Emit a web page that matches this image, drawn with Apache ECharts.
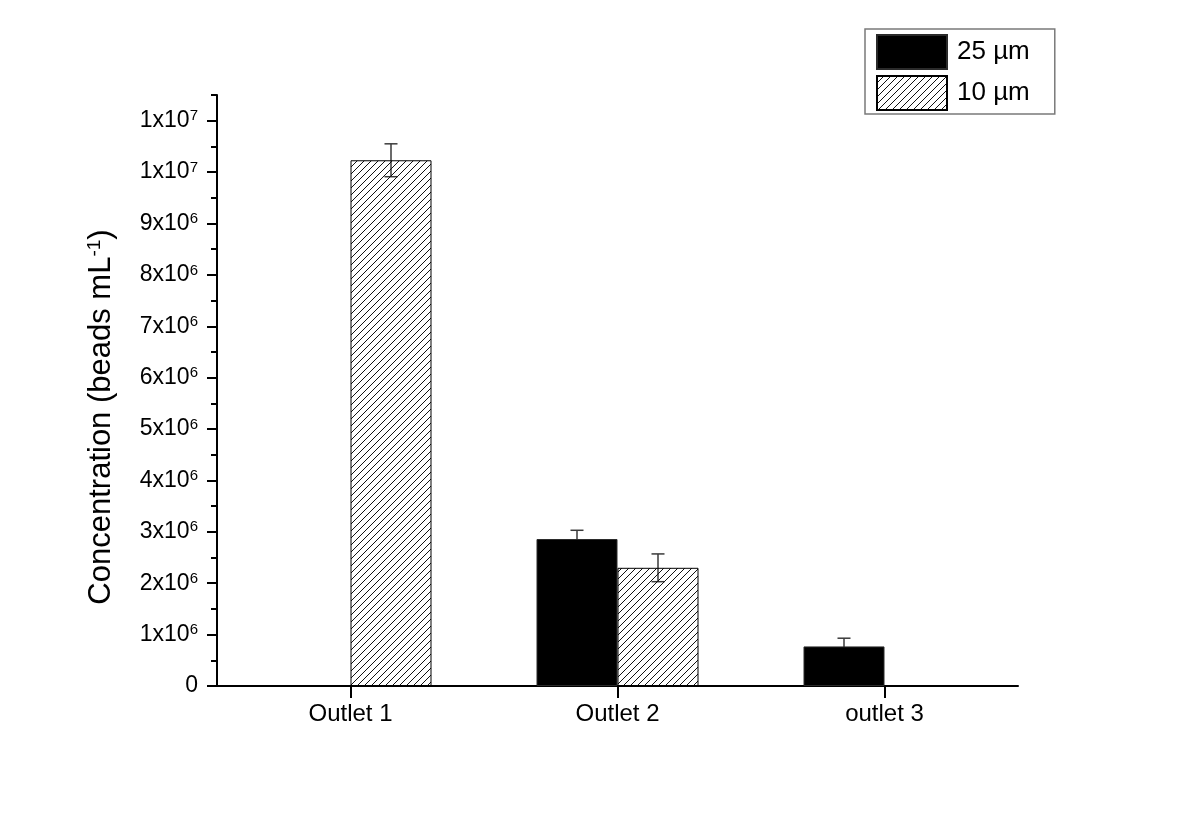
<!DOCTYPE html>
<html>
<head>
<meta charset="utf-8">
<title>Bead concentration per outlet</title>
<script src="https://cdn.jsdelivr.net/npm/echarts@6/dist/echarts.min.js"></script>
<style>
  html, body { margin: 0; padding: 0; background: #fff; }
  #chart { width: 1190px; height: 818px; }
</style>
</head>
<body>
<div id="chart"></div>
<script>
// Outlet categories and measured concentrations (beads per mL)
const categories = ['Outlet 1', 'Outlet 2', 'outlet 3'];
const seriesNames = ['25 µm', '10 µm'];
const mean25 = [null, 2.86e6, 0.77e6];
const err25 = [null, 0.17e6, 0.16e6];
const mean10 = [10.23e6, 2.30e6, null];
const err10 = [0.32e6, 0.27e6, null];
// Major y ticks (labelled); minor ticks fall halfway between them
const yTickValues = [0, 1e6, 2e6, 3e6, 4e6, 5e6, 6e6, 7e6, 8e6, 9e6, 1e7, 1.1e7];
const yMax = 1.15e7;

const FONT = '"Liberation Sans", Arial, Helvetica, sans-serif';
const BAR_W = 81;

// Diagonal hatch tile for the 10 µm bars
function hatchTile() {
  const s = 7;
  const c = document.createElement('canvas');
  c.width = s; c.height = s;
  const g = c.getContext('2d');
  g.strokeStyle = '#111';
  g.lineWidth = 1;
  g.beginPath();
  g.moveTo(-1, s + 1); g.lineTo(s + 1, -1);
  g.moveTo(-1, 1); g.lineTo(1, -1);
  g.moveTo(s - 1, s + 1); g.lineTo(s + 1, s - 1);
  g.stroke();
  return c;
}

// "1x10^6" style labels
function sciLabel(v) {
  if (v === 0) return '{b|0}';
  const e = Math.floor(Math.log10(v) + 1e-9);
  const m = Math.round(v / Math.pow(10, e));
  return '{b|' + m + 'x10}{s|' + e + '}';
}

function errorData(means, errs) {
  const out = [];
  means.forEach((v, i) => { if (v != null && errs[i] != null) out.push([i, v, errs[i]]); });
  return out;
}

function errorSeries(means, errs, offset) {
  return {
    type: 'custom',
    xAxisIndex: 0,
    yAxisIndex: 0,
    z: 1,
    silent: true,
    encode: { x: 0, y: 1 },
    data: errorData(means, errs),
    renderItem: function (params, api) {
      const i = api.value(0), v = api.value(1), e = api.value(2);
      const x = api.coord([i, v])[0] + offset;
      const yTop = api.coord([i, v + e])[1];
      const yBot = api.coord([i, v - e])[1];
      const half = 6.5;
      const st = { stroke: '#3a3a3a', lineWidth: 1.5 };
      return {
        type: 'group',
        children: [
          { type: 'line', shape: { x1: x, y1: yTop, x2: x, y2: yBot }, style: st },
          { type: 'line', shape: { x1: x - half, y1: yTop, x2: x + half, y2: yTop }, style: st },
          { type: 'line', shape: { x1: x - half, y1: yBot, x2: x + half, y2: yBot }, style: st }
        ]
      };
    }
  };
}

const chart = echarts.init(document.getElementById('chart'), null, { renderer: 'canvas' });

const axisBlack = { color: '#000', width: 2 };

chart.setOption({
  animation: false,
  backgroundColor: '#fff',
  textStyle: { fontFamily: FONT, color: '#000' },
  grid: { left: 217, right: 172, top: 95, bottom: 132 },
  legend: {
    data: seriesNames,
    orient: 'vertical',
    left: 865,
    top: 29,
    icon: 'rect',
    itemWidth: 70,
    itemHeight: 34,
    itemGap: 5,
    padding: [5, 25, 3, 11],
    borderColor: '#7a7a7a',
    borderWidth: 1.5,
    selectedMode: false,
    textStyle: { fontFamily: FONT, fontSize: 26, color: '#000', padding: [0, 0, 0, 5] }
  },
  xAxis: {
    type: 'category',
    data: categories,
    axisLine: { lineStyle: axisBlack },
    axisTick: { show: true, interval: 0, alignWithLabel: true, length: 12, lineStyle: axisBlack },
    axisLabel: { fontFamily: FONT, fontSize: 24, color: '#000', margin: 16, interval: 0 },
    splitLine: { show: false }
  },
  yAxis: [
    {
      // half-step ticks
      type: 'value',
      min: 0,
      max: yMax,
      interval: 5e5,
      axisLine: { show: true, lineStyle: axisBlack },
      axisTick: { show: true, length: 6, lineStyle: axisBlack },
      axisLabel: { show: false },
      splitLine: { show: false }
    },
    {
      // labelled major ticks and axis title
      type: 'value',
      position: 'left',
      min: 0,
      max: yMax,
      interval: 1e6,
      axisLine: { show: false },
      axisTick: { show: true, length: 10, lineStyle: axisBlack, customValues: yTickValues },
      axisLabel: {
        customValues: yTickValues,
        margin: 19,
        formatter: sciLabel,
        rich: {
          b: { fontFamily: FONT, fontSize: 23, color: '#000', lineHeight: 24 },
          s: { fontFamily: FONT, fontSize: 15, color: '#000', lineHeight: 14, verticalAlign: 'top' }
        }
      },
      splitLine: { show: false },
      name: '{t|Concentration (beads mL}{s|-1}{t|)}',
      nameLocation: 'middle',
      nameGap: 99,
      nameTextStyle: {
        padding: [0, 53, 0, 0],
        rich: {
          t: { fontFamily: FONT, fontSize: 31, color: '#000', lineHeight: 33 },
          s: { fontFamily: FONT, fontSize: 19, color: '#000', lineHeight: 19, verticalAlign: 'top' }
        }
      }
    }
  ],
  series: [
    {
      name: seriesNames[0],
      type: 'bar',
      z: 2,
      barWidth: BAR_W,
      barGap: '0%',
      data: mean25,
      itemStyle: { color: '#000', borderColor: '#2a2a2a', borderWidth: 1 }
    },
    {
      name: seriesNames[1],
      type: 'bar',
      z: 2,
      barWidth: BAR_W,
      barGap: '0%',
      data: mean10,
      itemStyle: {
        color: { image: hatchTile(), repeat: 'repeat' },
        borderColor: '#000',
        borderWidth: 1
      }
    },
    errorSeries(mean25, err25, -BAR_W / 2),
    errorSeries(mean10, err10, BAR_W / 2)
  ]
});
</script>
</body>
</html>
